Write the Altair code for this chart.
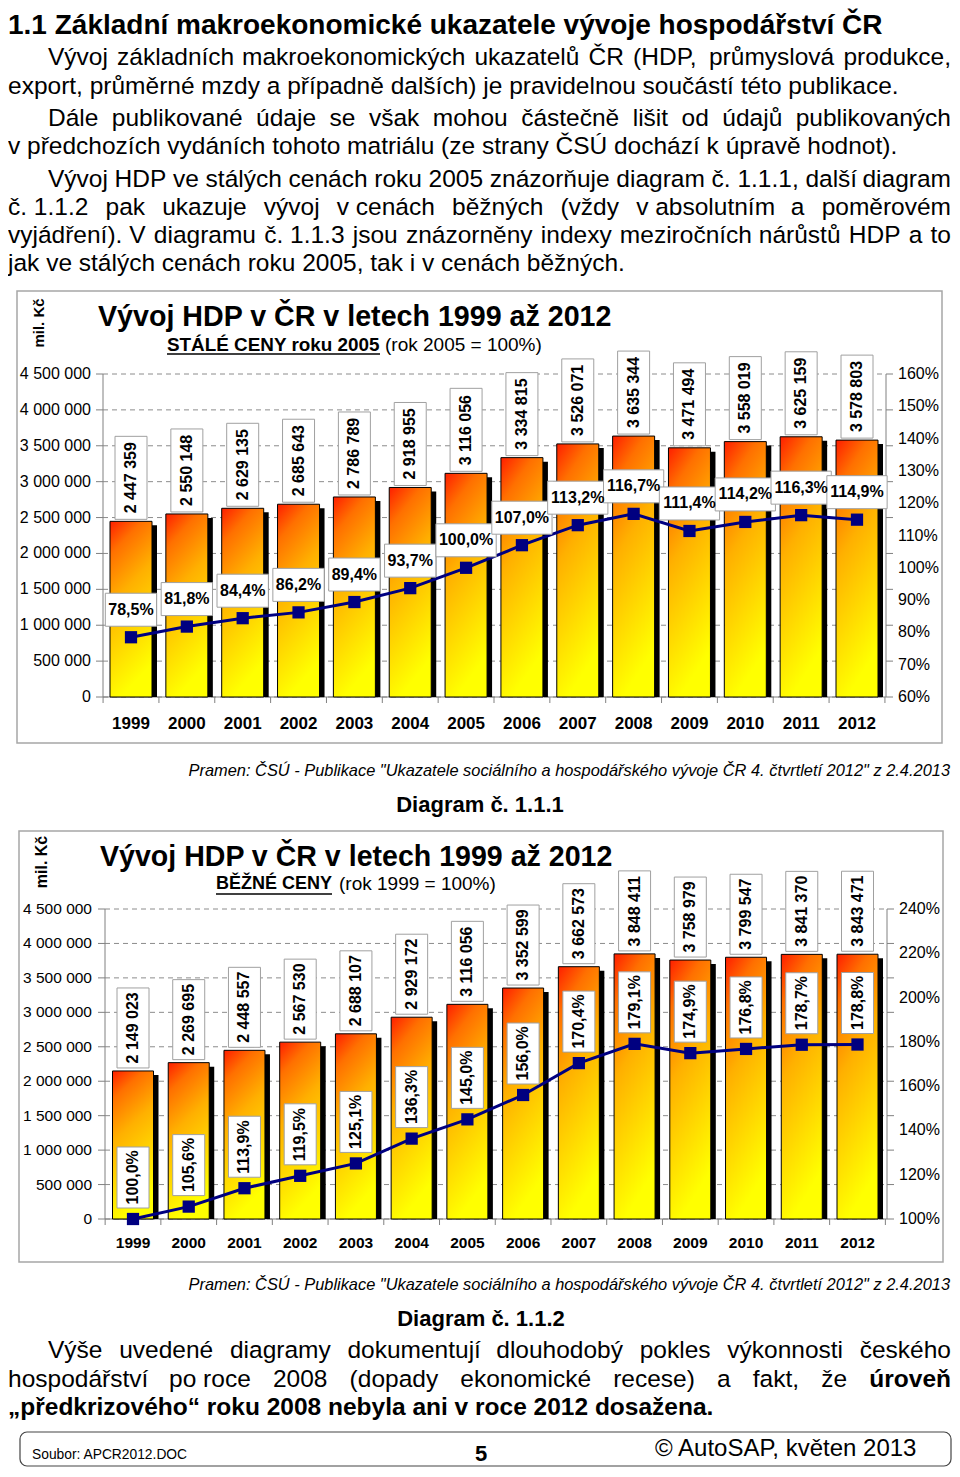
import unicodedata
import altair as alt
import pandas as pd

# ---------------- data ----------------
years = list(range(1999, 2013))
gdp_const = [2447359, 2550148, 2629135, 2685643, 2786789, 2918955, 3116056,
             3334815, 3526071, 3635344, 3471494, 3558019, 3625159, 3578803]
idx_const = [78.5, 81.8, 84.4, 86.2, 89.4, 93.7, 100.0,
             107.0, 113.2, 116.7, 111.4, 114.2, 116.3, 114.9]
gdp_curr = [2149023, 2269695, 2448557, 2567530, 2688107, 2929172, 3116056,
            3352599, 3662573, 3848411, 3758979, 3799547, 3841370, 3843471]
idx_curr = [100.0, 105.6, 113.9, 119.5, 125.1, 136.3, 145.0,
            156.0, 170.4, 179.1, 174.9, 176.8, 178.7, 178.8]
gdp_ticks = [0, 500000, 1000000, 1500000, 2000000, 2500000, 3000000,
             3500000, 4000000, 4500000]
gdp_tick_labels = ["0", "500 000", "1 000 000", "1 500 000", "2 000 000",
                   "2 500 000", "3 000 000", "3 500 000", "4 000 000", "4 500 000"]
pct_ticks_const = [60, 70, 80, 90, 100, 110, 120, 130, 140, 150, 160]
pct_ticks_curr = [100, 120, 140, 160, 180, 200, 220, 240]

page_title = "1.1 Základní makroekonomické ukazatele vývoje hospodářství ČR"
chart_title = "Vývoj HDP v ČR v letech 1999 až 2012"
sub1_bold, sub1_rest = "STÁLÉ CENY roku 2005", "(rok 2005 = 100%)"
sub2_bold, sub2_rest = "BĚŽNÉ CENY", "(rok 1999 = 100%)"
unit_label = "mil. Kč"
source = 'Pramen: ČSÚ - Publikace "Ukazatele sociálního a hospodářského vývoje ČR 4. čtvrtletí 2012" z 2.4.2013'

# ---------------- layout helpers ----------------
W, H, M = 944, 1460, 8
RIGHT = 951  # right edge of justified text (page px)

REG = dict(zip("abcdefghijklmnopqrstuvwxyz",
               [556, 556, 500, 556, 556, 278, 556, 556, 222, 222, 500, 222, 833,
                556, 556, 556, 556, 333, 500, 278, 556, 500, 722, 500, 500, 500]))
REG.update(zip("ABCDEFGHIJKLMNOPQRSTUVWXYZ",
               [667, 667, 722, 722, 667, 611, 778, 722, 278, 500, 667, 556, 833,
                722, 778, 667, 778, 722, 667, 611, 722, 667, 944, 667, 667, 611]))
REG.update({' ': 278, '.': 278, ',': 278, '(': 333, ')': 333, '-': 333, '%': 889,
            ':': 278, '=': 584, '"': 355, '„': 333, '“': 333, '©': 737})
BOLD = dict(zip("abcdefghijklmnopqrstuvwxyz",
                [556, 611, 556, 611, 556, 333, 611, 611, 278, 278, 556, 278, 889,
                 611, 611, 611, 611, 389, 556, 333, 611, 556, 778, 556, 556, 500]))
BOLD.update(zip("ABCDEFGHIJKLMNOPQRSTUVWXYZ",
                [722, 722, 722, 722, 667, 611, 778, 722, 278, 556, 722, 611, 833,
                 722, 778, 667, 778, 722, 667, 611, 722, 667, 944, 667, 667, 611]))
BOLD.update({' ': 278, '.': 278, ',': 278, '(': 333, ')': 333, '-': 333, '%': 889,
             ':': 333, '=': 584, '"': 474, '„': 500, '“': 500, '©': 737})
for d in "0123456789":
    REG[d] = 556
    BOLD[d] = 556


def tw(s, bold=False):
    tab = BOLD if bold else REG
    tot = 0
    for ch in s:
        if ch not in tab:
            ch = unicodedata.normalize('NFD', ch)[0]
        tot += tab.get(ch, 556)
    return tot / 1000.0


def fit(s, width, bold=False):
    return width / tw(s, bold)


def xdom(v0, p0, v1, p1):
    c0, c1 = p0 - M, p1 - M
    b = (c1 - c0) / (v1 - v0)
    a = c0 - b * v0
    return [(0 - a) / b, (W - a) / b]


def ydom(v0, p0, v1, p1):
    c0, c1 = p0 - M, p1 - M
    b = (c1 - c0) / (v1 - v0)
    a = c0 - b * v0
    return [(H - a) / b, (0 - a) / b]


def sc(dom):
    return alt.Scale(domain=dom, zero=False, nice=False, padding=0)


T = []


def add(t, x, y, fs, bold=False, italic=False, align='left', angle=0):
    T.append(dict(t=t, x=x - M, y=y - M, fs=fs, bold=bold, italic=italic,
                  align=align, angle=angle))


def justify(line, L, R, y, fs, bold_words=()):
    toks = [w.replace('~', ' ') for w in line.split(' ')]
    bolds = [w in bold_words for w in toks]
    ws = [tw(w, b) * fs for w, b in zip(toks, bolds)]
    gap = (R - L - sum(ws)) / (len(toks) - 1)
    x = L
    for i, (w, b) in enumerate(zip(toks, bolds)):
        if i == len(toks) - 1:
            add(w, R, y, fs, bold=b, align='right')
        else:
            add(w, x, y, fs, bold=b)
        x += ws[i] + gap


BODY = 24.5
# header text
add(page_title, 8, 26, 28, bold=True)
justify("Vývoj základních makroekonomických ukazatelů ČR (HDP, průmyslová produkce,", 48, RIGHT, 58, BODY)
add("export, průměrné mzdy a případně dalších) je pravidelnou součástí této publikace.", 8, 87, BODY)
justify("Dále publikované údaje se však mohou částečně lišit od údajů publikovaných", 48, RIGHT, 119, BODY)
add("v předchozích vydáních tohoto matriálu (ze strany ČSÚ dochází k úpravě hodnot).", 8, 147, BODY)
justify("Vývoj HDP ve stálých cenách roku 2005 znázorňuje diagram č.~1.1.1, další diagram", 48, RIGHT, 180, BODY)
justify("č.~1.1.2 pak ukazuje vývoj v~cenách běžných (vždy v~absolutním a poměrovém", 8, RIGHT, 208, BODY)
justify("vyjádření). V diagramu č.~1.1.3 jsou znázorněny indexy meziročních nárůstů HDP a to", 8, RIGHT, 236, BODY)
add("jak ve stálých cenách roku 2005, tak i v cenách běžných.", 8, 264, BODY)

# chart 1 texts
add(unit_label, 39, 323, 15, bold=True, align='center', angle=270)
add(chart_title, 98, 317, fit(chart_title, 514, True), bold=True)
add(sub1_bold, 167, 345, fit(sub1_bold, 213, True), bold=True)
add(sub1_rest, 385, 345, 19)
add(source, 950, 771, fit(source, 760), italic=True, align='right')
add("Diagram č. 1.1.1", 480, 805, 22, bold=True, align='center')

# chart 2 texts
add(unit_label, 42, 862, 16, bold=True, align='center', angle=270)
add(chart_title, 100, 857, fit(chart_title, 513, True), bold=True)
add(sub2_bold, 216, 884, fit(sub2_bold, 116, True), bold=True)
add(sub2_rest, 339, 884, 19)
add(source, 950, 1285, fit(source, 760), italic=True, align='right')
add("Diagram č. 1.1.2", 481, 1319, 22, bold=True, align='center')

# closing text
justify("Výše uvedené diagramy dokumentují dlouhodobý pokles výkonnosti českého", 48, RIGHT, 1351, BODY)
justify("hospodářství po~roce 2008 (dopady ekonomické recese) a fakt, že úroveň", 8, RIGHT, 1380, BODY,
        bold_words=("úroveň",))
add("„předkrizového“ roku 2008 nebyla ani v roce 2012 dosažena.", 8, 1408, BODY, bold=True)

# footer
add("Soubor: APCR2012.DOC", 32, 1455, fit("Soubor: APCR2012.DOC", 156))
add("5", 481, 1454, 22, bold=True, align='center')
add("© AutoSAP, květen 2013", 655, 1449, 24)

# ---------------- chart builder ----------------
grad = alt.Gradient(
    gradient='linear', x1=0, y1=0, x2=0.25, y2=1,
    stops=[alt.GradientStop(color='#ff1e00', offset=0),
           alt.GradientStop(color='#ff7000', offset=0.18),
           alt.GradientStop(color='#ffb000', offset=0.45),
           alt.GradientStop(color='#ffff00', offset=1)])


def fmt_int(v):
    return f"{v:,}".replace(",", " ")


def fmt_pct(p):
    return f"{p:.1f}".replace(".", ",") + "%"


def gdp_chart(values, index, pticks, xs, ys, ps, cfg):
    df = pd.DataFrame({"year": years, "v": values, "p": index})
    df["base"] = 0
    df["vlab"] = [fmt_int(v) for v in values]
    df["plab"] = [fmt_pct(p) for p in index]
    df["ylab"] = [str(y) for y in years]
    df["bw"] = [tw(s, True) * 16 + 6 for s in df["plab"]]
    g = pd.DataFrame({"t": gdp_ticks, "lab": gdp_tick_labels})
    pt = pd.DataFrame({"pt": pticks, "plab": [f"{t}%" for t in pticks]})
    bnd = pd.DataFrame({"yb": [y - 0.5 for y in years] + [years[-1] + 0.5]})
    bnd["base"] = 0
    ax = pd.DataFrame({"lo": [0], "hi": [gdp_ticks[-1]]})

    X = alt.X('year:Q', scale=xs, axis=None)
    Yv = alt.Y('v:Q', scale=ys, axis=None)
    Yp = alt.Y('p:Q', scale=ps, axis=None)
    xl, xr = cfg['xl'] - M, cfg['xr'] - M
    L = []
    L.append(alt.Chart(g).mark_rule(color='#8c8c8c', strokeDash=[5, 4], strokeWidth=1).encode(
        y=alt.Y('t:Q', scale=ys, axis=None), x=alt.value(xl), x2=alt.value(xr)))
    L.append(alt.Chart(g).mark_rule(color='#808080', strokeWidth=1).encode(
        y=alt.Y('t:Q', scale=ys, axis=None), x=alt.value(xl - 7), x2=alt.value(xl)))
    L.append(alt.Chart(g).mark_rule(color='#808080', strokeWidth=1).encode(
        y=alt.Y('t:Q', scale=ys, axis=None), x=alt.value(xr), x2=alt.value(xr + 7)))
    L.append(alt.Chart(g).mark_text(align='right', baseline='middle', fontSize=cfg['tick_fs'],
                                    color='black').encode(
        y=alt.Y('t:Q', scale=ys, axis=None), x=alt.value(cfg['lab_x'] - M), text='lab:N'))
    L.append(alt.Chart(pt).mark_text(align='left', baseline='middle', fontSize=16,
                                     color='black').encode(
        y=alt.Y('pt:Q', scale=ps, axis=None), x=alt.value(cfg['plab_x'] - M), text='plab:N'))
    for xv in (xl, xr):
        L.append(alt.Chart(ax).mark_rule(color='#808080', strokeWidth=1).encode(
            x=alt.value(xv), y=alt.Y('lo:Q', scale=ys, axis=None), y2='hi:Q'))
    L.append(alt.Chart(ax).mark_rule(color='#808080', strokeWidth=1.2).encode(
        y=alt.Y('lo:Q', scale=ys, axis=None), x=alt.value(xl), x2=alt.value(xr)))
    L.append(alt.Chart(bnd).mark_rule(color='#808080', strokeWidth=1, y2Offset=6).encode(
        x=alt.X('yb:Q', scale=xs, axis=None), y=alt.Y('base:Q', scale=ys, axis=None), y2='base:Q'))
    L.append(alt.Chart(df).mark_text(align='center', baseline='middle', fontSize=cfg['year_fs'],
                                     fontWeight='bold', color='black').encode(
        x=X, y=alt.value(cfg['year_y'] - M), text='ylab:N'))
    # bars with shadow
    L.append(alt.Chart(df).mark_bar(size=cfg['bar'], color='black', xOffset=5, yOffset=4).encode(
        x=X, y=Yv, y2='base:Q'))
    L.append(alt.Chart(df).mark_bar(size=cfg['bar'], fill=grad, stroke='black', strokeWidth=1).encode(
        x=X, y=Yv, y2='base:Q'))
    # value labels
    vb = cfg['vbox']
    L.append(alt.Chart(df).mark_bar(size=32, fill='white', stroke='#a0a0a0', strokeWidth=1,
                                    yOffset=-vb[0], y2Offset=-vb[1]).encode(x=X, y=Yv, y2='v:Q'))
    L.append(alt.Chart(df).mark_text(angle=270, align='left', baseline='middle', fontSize=16,
                                     fontWeight='bold', color='black', yOffset=-vb[2]).encode(
        x=X, y=Yv, text='vlab:N'))
    # index line
    L.append(alt.Chart(df).mark_line(color='#000080', strokeWidth=3).encode(x=X, y=Yp))
    L.append(alt.Chart(df).mark_point(shape='square', filled=True, size=150, color='#000080',
                                      opacity=1).encode(x=X, y=Yp))
    pb = cfg['pbox']
    if cfg['vertical']:
        L.append(alt.Chart(df).mark_bar(size=32, fill='white', stroke='#a0a0a0', strokeWidth=1,
                                        yOffset=-pb[0], y2Offset=-pb[1]).encode(x=X, y=Yp, y2='p:Q'))
        L.append(alt.Chart(df).mark_text(angle=270, align='left', baseline='middle', fontSize=16,
                                         fontWeight='bold', color='black', yOffset=-pb[2]).encode(
            x=X, y=Yp, text='plab:N'))
    else:
        L.append(alt.Chart(df).mark_bar(fill='white', stroke='#a0a0a0', strokeWidth=1,
                                        yOffset=-pb[0], y2Offset=-pb[1]).encode(
            x=X, y=Yp, y2='p:Q', size=alt.Size('bw:Q', scale=None, legend=None)))
        L.append(alt.Chart(df).mark_text(align='center', baseline='middle', fontSize=16,
                                         fontWeight='bold', color='black', yOffset=-pb[2]).encode(
            x=X, y=Yp, text='plab:N'))
    return L


layers = []

# decorations: frames, underlines, footer box
frames = pd.DataFrame({"x": [17 - M, 19 - M], "x2": [942 - M, 943 - M],
                       "y": [291 - M, 831 - M], "y2": [743 - M, 1262 - M]})
layers.append(alt.Chart(frames).mark_rect(fill='white', stroke='#a6a6a6', strokeWidth=1.5).encode(
    x=alt.X('x:Q', scale=None, axis=None), x2='x2:Q',
    y=alt.Y('y:Q', scale=None, axis=None), y2='y2:Q'))
footer = pd.DataFrame({"x": [20 - M], "x2": [951 - M], "y": [1432 - M], "y2": [1466 - M]})
layers.append(alt.Chart(footer).mark_rect(fillOpacity=0, fill='white', stroke='#444444',
                                          strokeWidth=1.2, cornerRadius=7).encode(
    x=alt.X('x:Q', scale=None, axis=None), x2='x2:Q',
    y=alt.Y('y:Q', scale=None, axis=None), y2='y2:Q'))
under = pd.DataFrame({"x": [167 - M, 216 - M], "x2": [380 - M, 332 - M], "y": [354 - M, 894 - M]})
layers.append(alt.Chart(under).mark_rule(color='black', strokeWidth=1.5).encode(
    x=alt.X('x:Q', scale=None, axis=None), x2='x2:Q', y=alt.Y('y:Q', scale=None, axis=None)))

cfg1 = dict(xl=103, xr=886, lab_x=91, plab_x=898, year_y=724, tick_fs=16, year_fs=17, bar=42,
            vbox=(85, 2, 8), pbox=(44, 11, 27.5), vertical=False)
cfg2 = dict(xl=105, xr=887, lab_x=92, plab_x=899, year_y=1243, tick_fs=15.5, year_fs=15.5, bar=41,
            vbox=(83, 3, 7.5), pbox=(72, 11, 14.5), vertical=True)

layers += gdp_chart(gdp_const, idx_const, pct_ticks_const,
                    sc(xdom(1999, 131, 2012, 857)), sc(ydom(0, 697, 4500000, 374)),
                    sc(ydom(60, 697, 160, 374)), cfg1)
layers += gdp_chart(gdp_curr, idx_curr, pct_ticks_curr,
                    sc(xdom(1999, 133, 2012, 857.5)), sc(ydom(0, 1219, 4500000, 909)),
                    sc(ydom(100, 1219, 240, 909)), cfg2)

tdf = pd.DataFrame(T)
for (b, it, al, an), g in tdf.groupby(['bold', 'italic', 'align', 'angle']):
    mk = dict(align=str(al), baseline='middle', color='black')
    if b:
        mk['fontWeight'] = 'bold'
    if it:
        mk['fontStyle'] = 'italic'
    if int(an):
        mk['angle'] = int(an)
    layers.append(alt.Chart(g.reset_index(drop=True)).mark_text(**mk).encode(
        x=alt.X('x:Q', scale=None, axis=None), y=alt.Y('y:Q', scale=None, axis=None),
        size=alt.Size('fs:Q', scale=None, legend=None), text='t:N'))

chart = alt.layer(*layers).properties(
    width=W, height=H, padding=0, background='white',
    autosize=alt.AutoSizeParams(type='none'),
).resolve_scale(x='independent', y='independent', size='independent').configure_view(
    stroke=None).configure_text(font='Liberation Sans')

chart.save("out.html", embed_options={"renderer": "svg", "actions": False})
